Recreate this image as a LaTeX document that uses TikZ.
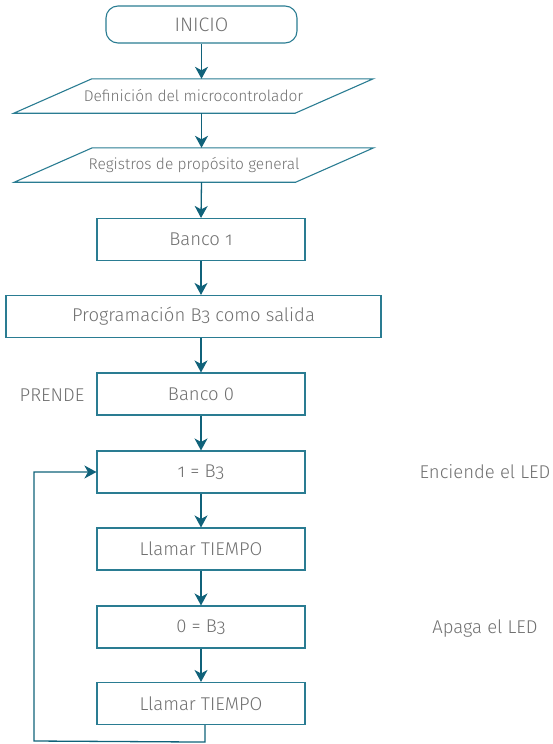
\documentclass[tikz,border=0pt]{standalone}
\usepackage{fontspec}
\setmainfont{Fira Sans}[Numbers=OldStyle, UprightFont=* Light]
\usetikzlibrary{arrows.meta,calc}
\definecolor{frame}{HTML}{2A7C92}
\definecolor{flow}{HTML}{10627A}
\definecolor{txt}{HTML}{707070}
\newcommand{\zerolin}{{\addfontfeature{Numbers=Lining}0}}
\tikzset{
  box/.style={draw=frame, line width=1.1pt, minimum width=208pt, minimum height=42pt,
    text=txt, font=\fontsize{18.5}{20}\selectfont, inner sep=0pt},
  iobox/.style={minimum width=281pt, minimum height=34pt, text=txt,
    font=\fontsize{15.5}{17}\selectfont, inner sep=0pt},
  ioframe/.style={draw=frame, line width=1.1pt},
  flowarrow/.style={draw=flow, line width=1.3pt,
    -{Stealth[length=12pt,width=13pt,inset=3.5pt,fill=flow]}},
  note/.style={text=txt, font=\fontsize{18.5}{20}\selectfont, inner sep=0pt}
}
\begin{document}
\begin{tikzpicture}[x=1pt,y=1pt]
\path[use as bounding box] (0,0) rectangle (552,-744);

% start terminal
\node[box, rounded corners=12pt, minimum width=191pt, minimum height=37pt,
      font=\fontsize{19.5}{21}\selectfont] (ini) at (201.5,-24.5) {INICIO};

% input/output parallelograms
\node[iobox] (def) at (193.5,-96) {Definición del microcontrolador};
\draw[ioframe] ($(def.north west)+(39,0)$) -- ($(def.north east)+(39,0)$)
  -- ($(def.south east)+(-39,0)$) -- ($(def.south west)+(-39,0)$) -- cycle;
\node[iobox] (reg) at (194,-165) {Registros de propósito general};
\draw[ioframe] ($(reg.north west)+(39,0)$) -- ($(reg.north east)+(39,0)$)
  -- ($(reg.south east)+(-39,0)$) -- ($(reg.south west)+(-39,0)$) -- cycle;

% process boxes
\node[box] (b1) at (201,-239.5) {Banco 1};
\node[box, minimum width=375pt] (prog) at (193.5,-316.5) {Programación B3 como salida};
\node[box] (b0) at (201,-394) {Banco \zerolin};
\node[box] (on) at (201,-472) {1 = B3};
\node[box] (t1) at (201,-549) {Llamar TIEMPO};
\node[box] (off) at (201,-627) {\zerolin{} = B3};
\node[box] (t2) at (201,-703.5) {Llamar TIEMPO};

% side notes
\node[note] (prende) at (52,-395) {PRENDE};
\node[note] (encn) at (485,-472) {Enciende el LED};
\node[note] (apag) at (485,-629) {Apaga el LED};

% main flow
\draw[flowarrow] (ini.south) -- (ini.south |- def.north);
\draw[flowarrow] (ini.south |- def.south) -- (ini.south |- reg.north);
\draw[flowarrow] (ini.south |- reg.south) -- (b1.north);
\draw[flowarrow] (b1.south) -- (b1.south |- prog.north);
\draw[flowarrow] (b1.south |- prog.south) -- (b0.north);
\draw[flowarrow] (b0.south) -- (on.north);
\draw[flowarrow] (on.south) -- (t1.north);
\draw[flowarrow] (t1.south) -- (off.north);
\draw[flowarrow] (off.south) -- (t2.north);

% loop back
\coordinate (loopA) at ($(t2.south)+(4,-17)$);
\coordinate (loopB) at (34,-741);
\draw[flowarrow] ($(t2.south)+(4,0)$) -- (loopA) -- (loopB) -- (loopB |- on.west) -- (on.west);
\end{tikzpicture}
\end{document}
